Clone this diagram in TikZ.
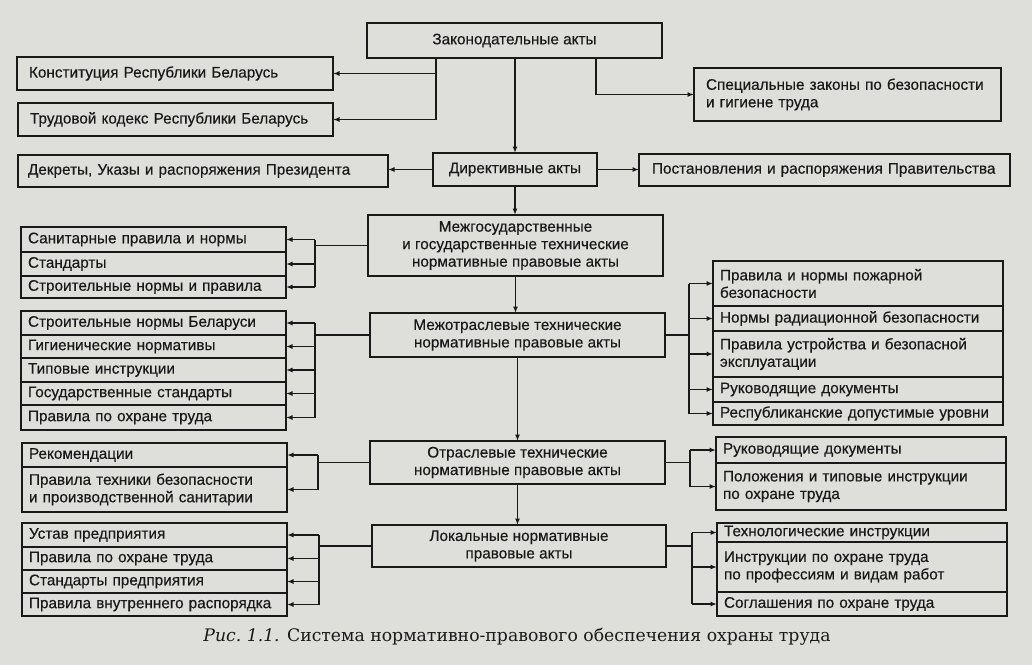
\documentclass[tikz,border=0pt]{standalone}
\usepackage{graphicx}
\usepackage{fontspec}
\setmainfont{Liberation Sans}[FakeBold=0.35]
\newfontfamily\capfont{DejaVu Serif}
\usetikzlibrary{arrows.meta}
\definecolor{paper}{RGB}{222,222,219}
\definecolor{ink}{RGB}{25,25,25}
\begin{document}
\begin{tikzpicture}[x=1pt,y=-1pt,
  every node/.style={font=\fontsize{15.3}{17.5}\selectfont, text=ink},
  box/.style={draw=ink, line width=1.4pt, anchor=north west, inner ysep=1pt, inner xsep=4pt, outer sep=0pt},
  lft/.style={align=left},
  ctr/.style={align=center},
  lcell/.style={box, lft, inner xsep=7pt, text width=251pt},
  rcell/.style={box, lft, inner xsep=7pt, text width=276pt},
  conn/.style={draw=ink, line width=1.3pt},
  arr/.style={conn, -{Latex[length=6.5pt,width=5pt]}}]
\useasboundingbox (0,0) rectangle (1032,665);
\fill[paper] (0,0) rectangle (1032,665);

% ---- top part ----
\node[box, ctr, minimum width=295pt, minimum height=35pt] (zak) at (367,23) {Законодательные акты};
\node[box, lft, inner xsep=12pt, text width=292pt, minimum height=33pt] (kon) at (17,57) {Конституция Республики Беларусь};
\node[box, lft, inner xsep=12pt, text width=291pt, minimum height=33pt] (trud) at (18,103) {Трудовой кодекс Республики Беларусь};
\node[box, lft, inner xsep=12pt, text width=283pt, minimum height=53pt] (spec) at (694,68) {Специальные законы по безопасности\\и гигиене труда};
\node[box, ctr, minimum width=164pt, minimum height=33pt] (dir) at (433,153) {Директивные акты};
\node[box, lft, inner xsep=10pt, text width=350pt, minimum height=32pt] (dekr) at (18,155) {Декреты, Указы и распоряжения Президента};
\node[box, lft, inner xsep=13pt, text width=345pt, minimum height=32pt] (post) at (639,154) {Постановления и распоряжения Правительства};

% ---- central column ----
\node[box, ctr, minimum width=295pt, minimum height=61pt] (mg) at (368,215) {Межгосударственные\\и государственные технические\\нормативные правовые акты};
\node[box, ctr, minimum width=295pt, minimum height=44pt] (mo) at (370,313) {Межотраслевые технические\\нормативные правовые акты};
\node[box, ctr, minimum width=295pt, minimum height=43pt] (ot) at (370,441) {Отраслевые технические\\нормативные правовые акты};
\node[box, ctr, minimum width=294pt, minimum height=42pt] (lok) at (372,525) {Локальные нормативные\\правовые акты};

% ---- left groups ----
\node[lcell, minimum height=25pt] (l1a) at (21,227) {Санитарные правила и нормы};
\node[lcell, minimum height=24pt] (l1b) at (21,252) {Стандарты};
\node[lcell, minimum height=22pt] (l1c) at (21,276) {Строительные нормы и правила};

\node[lcell, minimum height=24pt] (l2a) at (21,311) {Строительные нормы Беларуси};
\node[lcell, minimum height=23pt] (l2b) at (21,335) {Гигиенические нормативы};
\node[lcell, minimum height=24pt] (l2c) at (21,358) {Типовые инструкции};
\node[lcell, minimum height=23pt] (l2d) at (21,382) {Государственные стандарты};
\node[lcell, minimum height=25pt] (l2e) at (21,405) {Правила по охране труда};

\node[lcell, minimum height=24pt] (l3a) at (22,443) {Рекомендации};
\node[lcell, minimum height=45pt] (l3b) at (22,467) {Правила техники безопасности\\и производственной санитарии};

\node[lcell, minimum height=24pt] (l4a) at (22,523) {Устав предприятия};
\node[lcell, minimum height=23pt] (l4b) at (22,547) {Правила по охране труда};
\node[lcell, minimum height=23pt] (l4c) at (22,570) {Стандарты предприятия};
\node[lcell, minimum height=23pt] (l4d) at (22,593) {\mbox{Правила внутреннего распорядка}};

% ---- right groups ----
\node[rcell, minimum height=45pt] (r1a) at (713,261) {Правила и нормы пожарной\\безопасности};
\node[rcell, minimum height=25pt] (r1b) at (713,306) {Нормы радиационной безопасности};
\node[rcell, minimum height=46pt] (r1c) at (713,331) {Правила устройства и безопасной\\эксплуатации};
\node[rcell, minimum height=25pt] (r1d) at (713,377) {Руководящие документы};
\node[rcell, minimum height=23pt] (r1e) at (713,402) {\mbox{Республиканские допустимые уровни}};

\node[rcell, minimum height=26pt] (r2a) at (716,437) {Руководящие документы};
\node[rcell, minimum height=47pt] (r2b) at (716,463) {Положения и типовые инструкции\\по охране труда};

\node[rcell, minimum height=19pt] (r3a) at (717,523) {Технологические инструкции};
\node[rcell, minimum height=50pt] (r3b) at (717,542) {Инструкции по охране труда\\по профессиям и видам работ};
\node[rcell, minimum height=24pt] (r3c) at (717,592) {Соглашения по охране труда};

% ---- caption ----
\node (cap) at (517,637) {\resizebox{627pt}{!}{\capfont\fontsize{16}{18}\selectfont\textit{Рис.~1.1.} Система нормативно-правового обеспечения охраны труда}};

% ---- bracket coordinates ----
\coordinate (z1) at (436,0);
\coordinate (z2) at (596,0);
\coordinate (b1) at (315,0);
\coordinate (b2) at (315,0);
\coordinate (b3) at (318,0);
\coordinate (b4) at (319,0);
\coordinate (c1) at (689,0);
\coordinate (c2) at (690,0);
\coordinate (c3) at (692,0);

% ---- top connectors ----
\draw[conn] (zak.south -| z1) -- (z1 |- trud.east);
\draw[arr] (z1 |- kon.east) -- (kon.east);
\draw[arr] (z1 |- trud.east) -- (trud.east);
\draw[arr] (zak.south -| z2) |- (spec.west);
\draw[arr] (zak.south -| dir.north) -- (dir.north);
\draw[arr] (dir.west) -- (dir.west -| dekr.east);
\draw[arr] (dir.east) -- (dir.east -| post.west);
\draw[arr] (dir.south) -- (dir.south |- mg.north);
\draw[arr] (mg.south) -- (mg.south |- mo.north);
\draw[arr] (mo.south) -- (mo.south |- ot.north);
\draw[arr] (ot.south) -- (ot.south |- lok.north);

% ---- left brackets ----
\draw[conn] (mg.west) -- (mg.west -| b1);
\draw[conn] (b1 |- l1a.east) -- (b1 |- l1c.east);
\foreach \n in {l1a,l1b,l1c} \draw[arr] (b1 |- \n.east) -- (\n.east);

\draw[conn] (mo.west) -- (mo.west -| b2);
\draw[conn] (b2 |- l2a.east) -- (b2 |- l2e.east);
\foreach \n in {l2a,l2b,l2c,l2d,l2e} \draw[arr] (b2 |- \n.east) -- (\n.east);

\draw[conn] (ot.west) -- (ot.west -| b3);
\draw[conn] (b3 |- l3a.east) -- (b3 |- l3b.east);
\foreach \n in {l3a,l3b} \draw[arr] (b3 |- \n.east) -- (\n.east);

\draw[conn] (lok.west) -- (lok.west -| b4);
\draw[conn] (b4 |- l4a.east) -- (b4 |- l4d.east);
\foreach \n in {l4a,l4b,l4c,l4d} \draw[arr] (b4 |- \n.east) -- (\n.east);

% ---- right brackets ----
\draw[conn] (mo.east) -- (mo.east -| c1);
\draw[conn] (c1 |- r1a.west) -- (c1 |- r1e.west);
\foreach \n in {r1a,r1b,r1c,r1d,r1e} \draw[arr] (c1 |- \n.west) -- (\n.west);

\draw[conn] (ot.east) -- (ot.east -| c2);
\draw[conn] (c2 |- r2a.west) -- (c2 |- r2b.west);
\foreach \n in {r2a,r2b} \draw[arr] (c2 |- \n.west) -- (\n.west);

\draw[conn] (lok.east) -- (lok.east -| c3);
\draw[conn] (c3 |- r3a.west) -- (c3 |- r3c.west);
\foreach \n in {r3a,r3b,r3c} \draw[arr] (c3 |- \n.west) -- (\n.west);
\end{tikzpicture}
\end{document}
